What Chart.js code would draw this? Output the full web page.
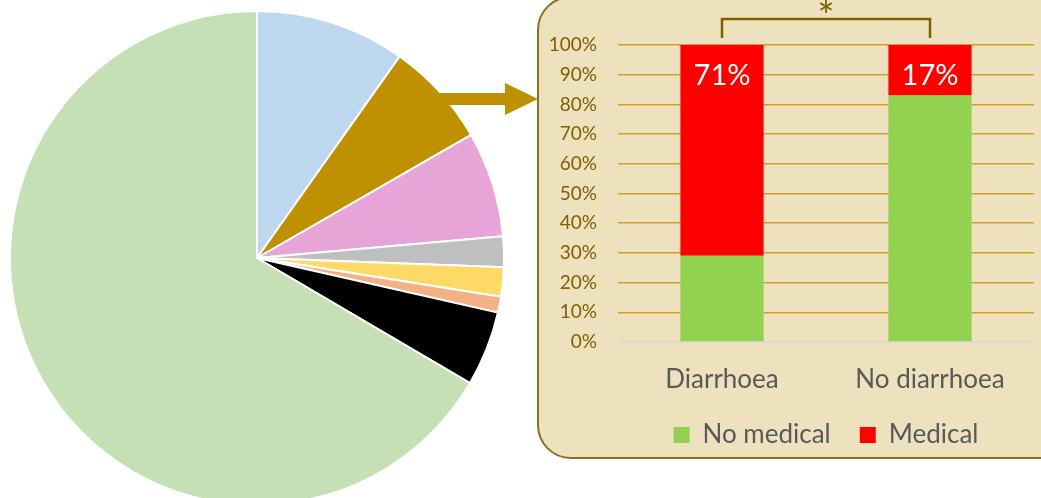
<!DOCTYPE html>
<html>
<head>
<meta charset="utf-8">
<script src="https://cdn.jsdelivr.net/npm/chart.js@4.4.1/dist/chart.umd.min.js"></script>
<style>
  html, body { margin: 0; padding: 0; background: #fff; }
  body { width: 1041px; height: 498px; overflow: hidden; position: relative; font-family: Lato, sans-serif; }
  #pie { position: absolute; left: 0; top: 0; }
  #panel {
    position: absolute; left: 537px; top: -4px; width: 540px; height: 459px;
    background: #EEE1BE; border: 2px solid #8C6F1F; border-radius: 34px;
  }
  #bars { position: absolute; left: 537px; top: 0; }
</style>
</head>
<body>
<canvas id="pie" width="540" height="520"></canvas>
<div id="panel"></div>
<canvas id="bars" width="504" height="458"></canvas>
<script>
// pie shares, clockwise from 12 o'clock (%)
var pieValues = [9.8, 6.9, 6.9, 2.0, 1.9, 1.05, 4.9, 66.55];
var pieColors = ['#BDD7EE', '#BF9000', '#E6A5D6', '#BFBFBF', '#FFD966', '#F4B183', '#000000', '#C5E0B4'];

// stacked bar (%)
var categories = ['Diarrhoea', 'No diarrhoea'];
var noMedical = [29, 83];
var medical = [71, 17];
var seriesNames = ['No medical', 'Medical'];

var gold = '#BF9000';
var brown = '#7F6000';

// arrow from the gold slice into the panel
var arrowPlugin = {
    id: 'arrow',
    afterDraw: function(chart) {
        var ctx = chart.ctx;
        var y = 99, x0 = 438, xh = 505, x1 = 538;
        ctx.save();
        ctx.fillStyle = gold;
        ctx.beginPath();
        ctx.moveTo(x0, y - 6);
        ctx.lineTo(xh, y - 6);
        ctx.lineTo(xh, y - 16);
        ctx.lineTo(x1, y);
        ctx.lineTo(xh, y + 16);
        ctx.lineTo(xh, y + 6);
        ctx.lineTo(x0, y + 6);
        ctx.closePath();
        ctx.fill();
        ctx.restore();
    }
};

new Chart(document.getElementById('pie'), {
    type: 'pie',
    data: {
        labels: pieValues.map(function(v, i) { return 'slice ' + (i + 1); }),
        datasets: [{
            data: pieValues,
            backgroundColor: pieColors,
            borderColor: '#ffffff',
            borderWidth: 2
        }]
    },
    options: {
        responsive: false,
        animation: false,
        layout: { padding: { left: 9, top: 10, right: 35, bottom: 14 } },
        plugins: { legend: { display: false }, tooltip: { enabled: false } }
    },
    plugins: [arrowPlugin]
});

// white % labels in the red segments + significance bracket
var barExtras = {
    id: 'barExtras',
    afterDatasetsDraw: function(chart) {
        var ctx = chart.ctx;
        var meta = chart.getDatasetMeta(1);
        ctx.save();
        ctx.fillStyle = '#ffffff';
        ctx.font = '29px Lato';
        ctx.textAlign = 'center';
        ctx.textBaseline = 'middle';
        meta.data.forEach(function(bar, i) {
            ctx.fillText(medical[i] + '%', bar.x, bar.y + 31);
        });

        var xs = chart.scales.x;
        var xa = xs.getPixelForValue(0), xb = xs.getPixelForValue(1);
        ctx.strokeStyle = brown;
        ctx.lineWidth = 2.5;
        ctx.beginPath();
        ctx.moveTo(xa, 38);
        ctx.lineTo(xa, 19);
        ctx.lineTo(xb, 19);
        ctx.lineTo(xb, 38);
        ctx.stroke();
        ctx.fillStyle = brown;
        ctx.font = '40px Lato';
        ctx.textBaseline = 'alphabetic';
        ctx.fillText('*', (xa + xb) / 2, 31);
        ctx.restore();
    }
};

new Chart(document.getElementById('bars'), {
    type: 'bar',
    data: {
        labels: categories,
        datasets: [
            { label: seriesNames[0], data: noMedical, backgroundColor: '#92D050' },
            { label: seriesNames[1], data: medical, backgroundColor: '#FF0000' }
        ]
    },
    options: {
        responsive: false,
        animation: false,
        layout: { padding: { left: 0, top: 45, right: 7, bottom: 0 } },
        datasets: { bar: { barPercentage: 0.4, categoryPercentage: 1.0 } },
        scales: {
            x: {
                stacked: true,
                grid: { display: false },
                border: { display: false },
                ticks: { color: '#595959', font: { family: 'Lato', size: 26 }, padding: 14, maxRotation: 0 },
                afterFit: function(scale) { scale.height = 51; }
            },
            y: {
                stacked: true,
                min: 0, max: 100,
                border: { display: false },
                grid: {
                    drawTicks: false,
                    lineWidth: 1.5,
                    color: function(c) { return c.tick && c.tick.value === 0 ? '#D9D9D9' : '#CFA030'; }
                },
                ticks: {
                    stepSize: 10,
                    padding: 21,
                    color: brown,
                    font: { family: 'Lato', size: 19 },
                    callback: function(v) { return v + '%'; }
                },
                afterFit: function(scale) { scale.width = 81; }
            }
        },
        plugins: {
            tooltip: { enabled: false },
            legend: {
                position: 'bottom',
                fullSize: false,
                labels: {
                    color: '#595959',
                    font: { family: 'Lato', size: 26 },
                    boxWidth: 16, boxHeight: 16,
                    padding: 29
                }
            }
        }
    },
    plugins: [barExtras]
});
</script>
</body>
</html>
